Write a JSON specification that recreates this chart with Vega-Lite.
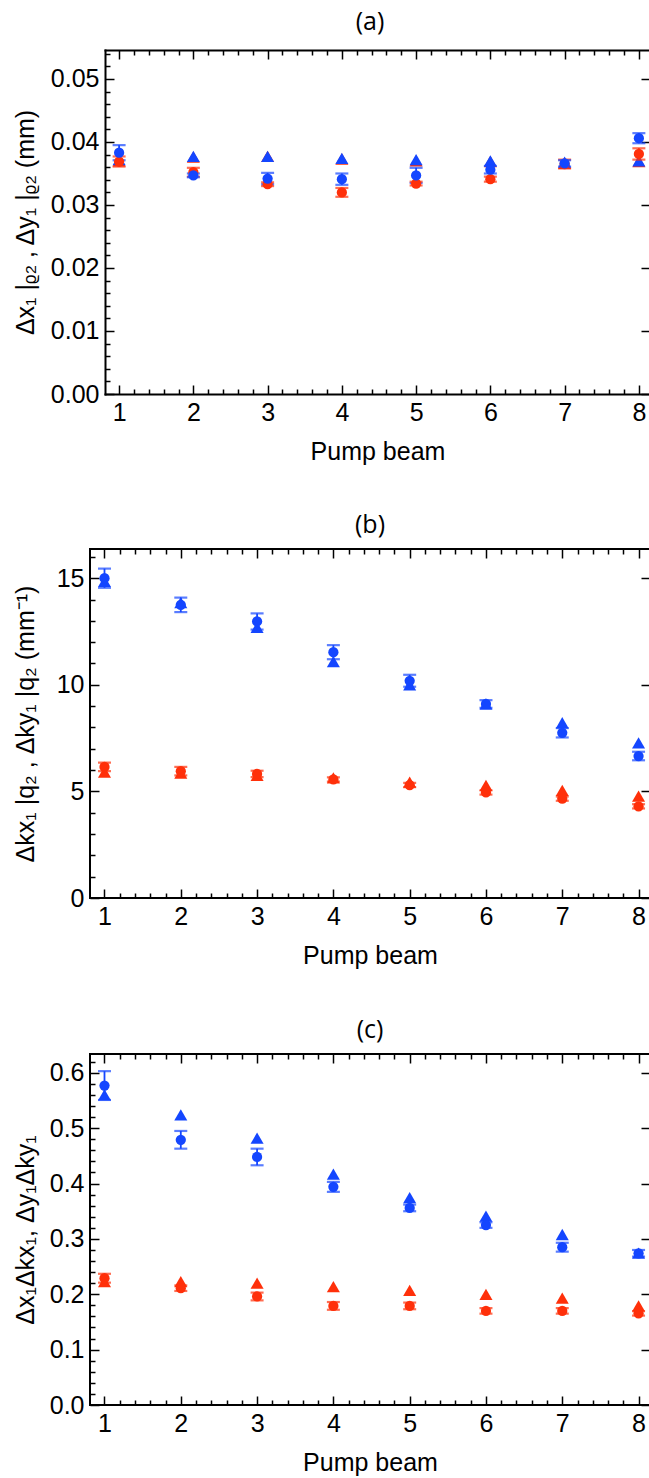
{
  "$schema": "https://vega.github.io/schema/vega-lite/v6.json",
  "background": "white",
  "padding": {"left": 12, "top": 9, "right": 1, "bottom": 0},
  "datasets": {
    "a": [
      {"beam": 1, "series": "red", "marker": "triangle", "v": 0.0370},
      {"beam": 2, "series": "red", "marker": "triangle", "v": 0.0376},
      {"beam": 3, "series": "red", "marker": "triangle", "v": 0.0377},
      {"beam": 4, "series": "red", "marker": "triangle", "v": 0.0373},
      {"beam": 5, "series": "red", "marker": "triangle", "v": 0.0370},
      {"beam": 6, "series": "red", "marker": "triangle", "v": 0.0369},
      {"beam": 7, "series": "red", "marker": "triangle", "v": 0.0366},
      {"beam": 8, "series": "red", "marker": "triangle", "v": 0.0369},
      {"beam": 1, "series": "blue", "marker": "triangle", "v": 0.0372},
      {"beam": 2, "series": "blue", "marker": "triangle", "v": 0.0377},
      {"beam": 3, "series": "blue", "marker": "triangle", "v": 0.0377},
      {"beam": 4, "series": "blue", "marker": "triangle", "v": 0.0374},
      {"beam": 5, "series": "blue", "marker": "triangle", "v": 0.0372},
      {"beam": 6, "series": "blue", "marker": "triangle", "v": 0.0370},
      {"beam": 7, "series": "blue", "marker": "triangle", "v": 0.0368},
      {"beam": 8, "series": "blue", "marker": "triangle", "v": 0.0370},
      {"beam": 1, "series": "red", "marker": "circle", "v": 0.0369, "err": 0.0008},
      {"beam": 2, "series": "red", "marker": "circle", "v": 0.0352, "err": 0.0007},
      {"beam": 3, "series": "red", "marker": "circle", "v": 0.0333, "err": 0.0003},
      {"beam": 4, "series": "red", "marker": "circle", "v": 0.0320, "err": 0.0007},
      {"beam": 5, "series": "red", "marker": "circle", "v": 0.0334, "err": 0.0003},
      {"beam": 6, "series": "red", "marker": "circle", "v": 0.0341, "err": 0.0004},
      {"beam": 7, "series": "red", "marker": "circle", "v": 0.0365, "err": 0.0007},
      {"beam": 8, "series": "red", "marker": "circle", "v": 0.0381, "err": 0.0009},
      {"beam": 1, "series": "blue", "marker": "circle", "v": 0.0383, "err": 0.0012},
      {"beam": 2, "series": "blue", "marker": "circle", "v": 0.0347, "err": 0.0003},
      {"beam": 3, "series": "blue", "marker": "circle", "v": 0.0342, "err": 0.0009},
      {"beam": 4, "series": "blue", "marker": "circle", "v": 0.0341, "err": 0.0009},
      {"beam": 5, "series": "blue", "marker": "circle", "v": 0.0347, "err": 0.0012},
      {"beam": 6, "series": "blue", "marker": "circle", "v": 0.0356, "err": 0.0006},
      {"beam": 7, "series": "blue", "marker": "circle", "v": 0.0366, "err": 0.0005},
      {"beam": 8, "series": "blue", "marker": "circle", "v": 0.0406, "err": 0.0008}
    ],
    "b": [
      {"beam": 1, "series": "red", "marker": "triangle", "v": 5.91},
      {"beam": 2, "series": "red", "marker": "triangle", "v": 5.86},
      {"beam": 3, "series": "red", "marker": "triangle", "v": 5.75},
      {"beam": 4, "series": "red", "marker": "triangle", "v": 5.63},
      {"beam": 5, "series": "red", "marker": "triangle", "v": 5.44},
      {"beam": 6, "series": "red", "marker": "triangle", "v": 5.28},
      {"beam": 7, "series": "red", "marker": "triangle", "v": 5.05},
      {"beam": 8, "series": "red", "marker": "triangle", "v": 4.78},
      {"beam": 1, "series": "blue", "marker": "triangle", "v": 14.85},
      {"beam": 2, "series": "blue", "marker": "triangle", "v": 13.85},
      {"beam": 3, "series": "blue", "marker": "triangle", "v": 12.7},
      {"beam": 4, "series": "blue", "marker": "triangle", "v": 11.09},
      {"beam": 5, "series": "blue", "marker": "triangle", "v": 10.0},
      {"beam": 6, "series": "blue", "marker": "triangle", "v": 9.1},
      {"beam": 7, "series": "blue", "marker": "triangle", "v": 8.22},
      {"beam": 8, "series": "blue", "marker": "triangle", "v": 7.28},
      {"beam": 1, "series": "red", "marker": "circle", "v": 6.15, "err": 0.2},
      {"beam": 2, "series": "red", "marker": "circle", "v": 5.95, "err": 0.2},
      {"beam": 3, "series": "red", "marker": "circle", "v": 5.82, "err": 0.15},
      {"beam": 4, "series": "red", "marker": "circle", "v": 5.56, "err": 0.1},
      {"beam": 5, "series": "red", "marker": "circle", "v": 5.30, "err": 0.1},
      {"beam": 6, "series": "red", "marker": "circle", "v": 4.95, "err": 0.1},
      {"beam": 7, "series": "red", "marker": "circle", "v": 4.66, "err": 0.1},
      {"beam": 8, "series": "red", "marker": "circle", "v": 4.30, "err": 0.1},
      {"beam": 1, "series": "blue", "marker": "circle", "v": 15.0, "err": 0.45},
      {"beam": 2, "series": "blue", "marker": "circle", "v": 13.75, "err": 0.34},
      {"beam": 3, "series": "blue", "marker": "circle", "v": 12.97, "err": 0.38},
      {"beam": 4, "series": "blue", "marker": "circle", "v": 11.53, "err": 0.33},
      {"beam": 5, "series": "blue", "marker": "circle", "v": 10.19, "err": 0.28},
      {"beam": 6, "series": "blue", "marker": "circle", "v": 9.1, "err": 0.18},
      {"beam": 7, "series": "blue", "marker": "circle", "v": 7.75, "err": 0.22},
      {"beam": 8, "series": "blue", "marker": "circle", "v": 6.66, "err": 0.2}
    ],
    "c": [
      {"beam": 1, "series": "red", "marker": "triangle", "v": 0.223},
      {"beam": 2, "series": "red", "marker": "triangle", "v": 0.223},
      {"beam": 3, "series": "red", "marker": "triangle", "v": 0.220},
      {"beam": 4, "series": "red", "marker": "triangle", "v": 0.214},
      {"beam": 5, "series": "red", "marker": "triangle", "v": 0.207},
      {"beam": 6, "series": "red", "marker": "triangle", "v": 0.200},
      {"beam": 7, "series": "red", "marker": "triangle", "v": 0.193},
      {"beam": 8, "series": "red", "marker": "triangle", "v": 0.179},
      {"beam": 1, "series": "blue", "marker": "triangle", "v": 0.560},
      {"beam": 2, "series": "blue", "marker": "triangle", "v": 0.524},
      {"beam": 3, "series": "blue", "marker": "triangle", "v": 0.482},
      {"beam": 4, "series": "blue", "marker": "triangle", "v": 0.417},
      {"beam": 5, "series": "blue", "marker": "triangle", "v": 0.3745},
      {"beam": 6, "series": "blue", "marker": "triangle", "v": 0.341},
      {"beam": 7, "series": "blue", "marker": "triangle", "v": 0.308},
      {"beam": 8, "series": "blue", "marker": "triangle", "v": 0.2745},
      {"beam": 1, "series": "red", "marker": "circle", "v": 0.229, "err": 0.008},
      {"beam": 2, "series": "red", "marker": "circle", "v": 0.211, "err": 0.005},
      {"beam": 3, "series": "red", "marker": "circle", "v": 0.196, "err": 0.007},
      {"beam": 4, "series": "red", "marker": "circle", "v": 0.179, "err": 0.007},
      {"beam": 5, "series": "red", "marker": "circle", "v": 0.179, "err": 0.006},
      {"beam": 6, "series": "red", "marker": "circle", "v": 0.170, "err": 0.005},
      {"beam": 7, "series": "red", "marker": "circle", "v": 0.170, "err": 0.005},
      {"beam": 8, "series": "red", "marker": "circle", "v": 0.1655, "err": 0.004},
      {"beam": 1, "series": "blue", "marker": "circle", "v": 0.577, "err": 0.026},
      {"beam": 2, "series": "blue", "marker": "circle", "v": 0.479, "err": 0.016},
      {"beam": 3, "series": "blue", "marker": "circle", "v": 0.448, "err": 0.015},
      {"beam": 4, "series": "blue", "marker": "circle", "v": 0.394, "err": 0.009},
      {"beam": 5, "series": "blue", "marker": "circle", "v": 0.356, "err": 0.006},
      {"beam": 6, "series": "blue", "marker": "circle", "v": 0.325, "err": 0.005},
      {"beam": 7, "series": "blue", "marker": "circle", "v": 0.285, "err": 0.008},
      {"beam": 8, "series": "blue", "marker": "circle", "v": 0.274, "err": 0.006}
    ]
  },
  "vconcat": [
    {
      "data": {"name": "a"},
      "width": 560,
      "height": 344,
      "title": {"text": "(a)"},
      "view": {"stroke": null},
      "layer": [
        {
          "encoding": {
            "x": {"field": "beam", "type": "quantitative", "scale": {"domain": [0.81, 8.15], "range": [15, 560], "nice": false, "zero": false},
              "axis": {"orient": "bottom", "title": "Pump beam", "domain": true, "domainColor": "black", "domainWidth": 2, "domainCap": "square",
                "values": [1,1.2,1.4,1.6,1.8,2,2.2,2.4,2.6,2.8,3,3.2,3.4,3.6,3.8,4,4.2,4.4,4.6,4.8,5,5.2,5.4,5.6,5.8,6,6.2,6.4,6.6,6.8,7,7.2,7.4,7.6,7.8,8],
                "labelExpr": "abs(datum.value - round(datum.value)) < 0.001 ? format(datum.value, 'd') : ''",
                "tickSize": {"condition": {"test": "abs(datum.value - round(datum.value)) < 0.001", "value": -9}, "value": -5}}},
            "y": {"field": "v", "type": "quantitative", "scale": {"domain": [0, 0.0546], "nice": false, "zero": false},
              "axis": {"orient": "left", "offset": -15, "title": "Δx₁ |ᵨ₂  ,  Δy₁ |ᵨ₂    (mm)", "minExtent": 57, "maxExtent": 57,
                "domain": true, "domainColor": "black", "domainWidth": 2, "domainCap": "square",
                "values": [0,0.002,0.004,0.006,0.008,0.01,0.012,0.014,0.016,0.018,0.02,0.022,0.024,0.026,0.028,0.03,0.032,0.034,0.036,0.038,0.04,0.042,0.044,0.046,0.048,0.05,0.052,0.054],
                "labelExpr": "abs(datum.value * 100 - round(datum.value * 100)) < 0.001 ? format(datum.value, '.2f') : ''",
                "tickSize": {"condition": {"test": "abs(datum.value * 100 - round(datum.value * 100)) < 0.001", "value": -9}, "value": -5}}},
            "color": {"field": "series", "type": "nominal", "scale": {"domain": ["blue", "red"], "range": ["#1446ff", "#ff300a"]}, "legend": null}
          },
          "layer": [
            {"transform": [{"filter": {"field": "marker", "equal": "triangle"}}],
             "mark": {"type": "point", "shape": "triangle-up", "filled": true, "opacity": 1, "size": 170}},
            {"transform": [{"filter": {"field": "marker", "equal": "circle"}}],
             "mark": {"type": "errorbar", "ticks": {"size": 13, "thickness": 2.2}, "rule": {"strokeWidth": 1.8}},
             "encoding": {"yError": {"field": "err"}}},
            {"transform": [{"filter": {"field": "marker", "equal": "circle"}}],
             "mark": {"type": "point", "shape": "circle", "filled": true, "opacity": 1, "size": 105}}
          ]
        },
        {
          "mark": {"type": "point", "opacity": 0},
          "encoding": {
            "x": {"field": "beam", "type": "quantitative", "scale": {"domain": [0.81, 8.15], "range": [15, 560], "nice": false, "zero": false},
              "axis": {"orient": "top", "title": null, "labels": false, "minExtent": 0, "maxExtent": 0,
                "domain": true, "domainColor": "black", "domainWidth": 2, "domainCap": "square",
                "values": [1,1.2,1.4,1.6,1.8,2,2.2,2.4,2.6,2.8,3,3.2,3.4,3.6,3.8,4,4.2,4.4,4.6,4.8,5,5.2,5.4,5.6,5.8,6,6.2,6.4,6.6,6.8,7,7.2,7.4,7.6,7.8,8],
                "tickSize": {"condition": {"test": "abs(datum.value - round(datum.value)) < 0.001", "value": -9}, "value": -5}}},
            "y": {"field": "v", "type": "quantitative", "scale": {"domain": [0, 0.0546], "nice": false, "zero": false},
              "axis": {"orient": "right", "title": null, "labels": false, "minExtent": 0, "maxExtent": 0, "tickSize": -9,
                "domain": true, "domainColor": "black", "domainWidth": 2, "domainCap": "square",
                "values": [0,0.01,0.02,0.03,0.04,0.05]}}
          }
        }
      ],
      "resolve": {"axis": {"x": "independent", "y": "independent"}}
    },
    {
      "data": {"name": "b"},
      "width": 560,
      "height": 349,
      "title": {"text": "(b)"},
      "layer": [
        {
          "encoding": {
            "x": {"field": "beam", "type": "quantitative", "scale": {"domain": [0.81, 8.15], "nice": false, "zero": false},
              "axis": {"orient": "bottom", "title": "Pump beam",
                "values": [1,1.2,1.4,1.6,1.8,2,2.2,2.4,2.6,2.8,3,3.2,3.4,3.6,3.8,4,4.2,4.4,4.6,4.8,5,5.2,5.4,5.6,5.8,6,6.2,6.4,6.6,6.8,7,7.2,7.4,7.6,7.8,8],
                "labelExpr": "abs(datum.value - round(datum.value)) < 0.001 ? format(datum.value, 'd') : ''",
                "tickSize": {"condition": {"test": "abs(datum.value - round(datum.value)) < 0.001", "value": -9}, "value": -5}}},
            "y": {"field": "v", "type": "quantitative", "scale": {"domain": [0, 16.37], "nice": false, "zero": false},
              "axis": {"orient": "left", "title": "Δkx₁ |q₂  ,  Δky₁ |q₂    (mm⁻¹)", "minExtent": 42, "maxExtent": 42,
                "values": [0,1,2,3,4,5,6,7,8,9,10,11,12,13,14,15,16],
                "labelExpr": "datum.value % 5 === 0 ? format(datum.value, 'd') : ''",
                "tickSize": {"condition": {"test": "datum.value % 5 === 0", "value": -9}, "value": -5}}},
            "color": {"field": "series", "type": "nominal", "scale": {"domain": ["blue", "red"], "range": ["#1446ff", "#ff300a"]}, "legend": null}
          },
          "layer": [
            {"transform": [{"filter": {"field": "marker", "equal": "triangle"}}],
             "mark": {"type": "point", "shape": "triangle-up", "filled": true, "opacity": 1, "size": 170}},
            {"transform": [{"filter": {"field": "marker", "equal": "circle"}}],
             "mark": {"type": "errorbar", "ticks": {"size": 13, "thickness": 2.2}, "rule": {"strokeWidth": 1.8}},
             "encoding": {"yError": {"field": "err"}}},
            {"transform": [{"filter": {"field": "marker", "equal": "circle"}}],
             "mark": {"type": "point", "shape": "circle", "filled": true, "opacity": 1, "size": 105}}
          ]
        },
        {
          "mark": {"type": "point", "opacity": 0},
          "encoding": {
            "x": {"field": "beam", "type": "quantitative", "scale": {"domain": [0.81, 8.15], "nice": false, "zero": false},
              "axis": {"orient": "top", "title": null, "labels": false, "minExtent": 0, "maxExtent": 0,
                "values": [1,1.2,1.4,1.6,1.8,2,2.2,2.4,2.6,2.8,3,3.2,3.4,3.6,3.8,4,4.2,4.4,4.6,4.8,5,5.2,5.4,5.6,5.8,6,6.2,6.4,6.6,6.8,7,7.2,7.4,7.6,7.8,8],
                "tickSize": {"condition": {"test": "abs(datum.value - round(datum.value)) < 0.001", "value": -9}, "value": -5}}},
            "y": {"field": "v", "type": "quantitative", "scale": {"domain": [0, 16.37], "nice": false, "zero": false},
              "axis": {"orient": "right", "title": null, "labels": false, "minExtent": 0, "maxExtent": 0, "tickSize": -9,
                "values": [0,5,10,15]}}
          }
        }
      ],
      "resolve": {"axis": {"x": "independent", "y": "independent"}}
    },
    {
      "data": {"name": "c"},
      "width": 560,
      "height": 351,
      "title": {"text": "(c)"},
      "layer": [
        {
          "encoding": {
            "x": {"field": "beam", "type": "quantitative", "scale": {"domain": [0.81, 8.15], "nice": false, "zero": false},
              "axis": {"orient": "bottom", "title": "Pump beam",
                "values": [1,1.2,1.4,1.6,1.8,2,2.2,2.4,2.6,2.8,3,3.2,3.4,3.6,3.8,4,4.2,4.4,4.6,4.8,5,5.2,5.4,5.6,5.8,6,6.2,6.4,6.6,6.8,7,7.2,7.4,7.6,7.8,8],
                "labelExpr": "abs(datum.value - round(datum.value)) < 0.001 ? format(datum.value, 'd') : ''",
                "tickSize": {"condition": {"test": "abs(datum.value - round(datum.value)) < 0.001", "value": -9}, "value": -5}}},
            "y": {"field": "v", "type": "quantitative", "scale": {"domain": [0, 0.634], "nice": false, "zero": false},
              "axis": {"orient": "left", "title": "Δx₁Δkx₁, Δy₁Δky₁", "minExtent": 42, "maxExtent": 42,
                "values": [0,0.02,0.04,0.06,0.08,0.1,0.12,0.14,0.16,0.18,0.2,0.22,0.24,0.26,0.28,0.3,0.32,0.34,0.36,0.38,0.4,0.42,0.44,0.46,0.48,0.5,0.52,0.54,0.56,0.58,0.6,0.62],
                "labelExpr": "abs(datum.value * 10 - round(datum.value * 10)) < 0.001 ? format(datum.value, '.1f') : ''",
                "tickSize": {"condition": {"test": "abs(datum.value * 10 - round(datum.value * 10)) < 0.001", "value": -9}, "value": -5}}},
            "color": {"field": "series", "type": "nominal", "scale": {"domain": ["blue", "red"], "range": ["#1446ff", "#ff300a"]}, "legend": null}
          },
          "layer": [
            {"transform": [{"filter": {"field": "marker", "equal": "triangle"}}],
             "mark": {"type": "point", "shape": "triangle-up", "filled": true, "opacity": 1, "size": 170}},
            {"transform": [{"filter": {"field": "marker", "equal": "circle"}}],
             "mark": {"type": "errorbar", "ticks": {"size": 13, "thickness": 2.2}, "rule": {"strokeWidth": 1.8}},
             "encoding": {"yError": {"field": "err"}}},
            {"transform": [{"filter": {"field": "marker", "equal": "circle"}}],
             "mark": {"type": "point", "shape": "circle", "filled": true, "opacity": 1, "size": 105}}
          ]
        },
        {
          "mark": {"type": "point", "opacity": 0},
          "encoding": {
            "x": {"field": "beam", "type": "quantitative", "scale": {"domain": [0.81, 8.15], "nice": false, "zero": false},
              "axis": {"orient": "top", "title": null, "labels": false, "minExtent": 0, "maxExtent": 0,
                "values": [1,1.2,1.4,1.6,1.8,2,2.2,2.4,2.6,2.8,3,3.2,3.4,3.6,3.8,4,4.2,4.4,4.6,4.8,5,5.2,5.4,5.6,5.8,6,6.2,6.4,6.6,6.8,7,7.2,7.4,7.6,7.8,8],
                "tickSize": {"condition": {"test": "abs(datum.value - round(datum.value)) < 0.001", "value": -9}, "value": -5}}},
            "y": {"field": "v", "type": "quantitative", "scale": {"domain": [0, 0.634], "nice": false, "zero": false},
              "axis": {"orient": "right", "title": null, "labels": false, "minExtent": 0, "maxExtent": 0, "tickSize": -9,
                "values": [0,0.1,0.2,0.3,0.4,0.5,0.6]}}
          }
        }
      ],
      "resolve": {"axis": {"x": "independent", "y": "independent"}}
    }
  ],
  "spacing": 47,
  "config": {
    "view": {"stroke": "black", "strokeWidth": 2},
    "axis": {
      "domain": false, "grid": false,
      "tickColor": "black", "tickWidth": 1.5,
      "labelFont": "Liberation Sans", "labelFontSize": 25, "labelColor": "black", "labelPadding": 15,
      "labelOverlap": false, "labelFlush": false, "labelBound": false,
      "titleFont": "Liberation Sans", "titleFontSize": 25, "titleFontWeight": "normal", "titleColor": "black", "titlePadding": 10
    },
    "title": {"font": "Open Sans", "fontSize": 25, "fontWeight": "normal", "color": "black", "offset": 7, "anchor": "middle"}
  }
}
